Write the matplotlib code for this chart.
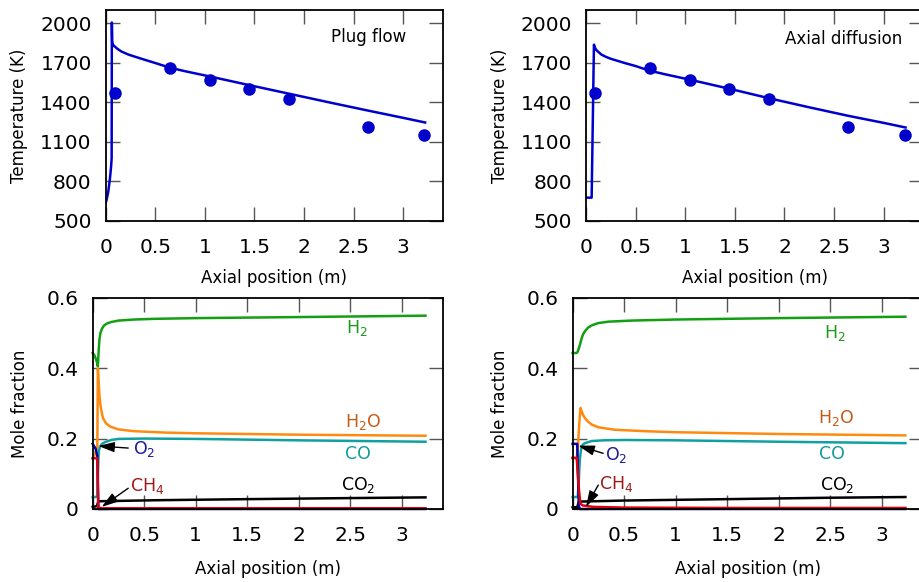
import matplotlib
matplotlib.use("Agg")
import matplotlib.pyplot as plt

plt.rcParams['font.family'] = ['DejaVu Sans']
plt.rcParams['mathtext.fontset'] = 'dejavusans'

# ---------------- data ----------------
x_ticks = [0, 0.5, 1, 1.5, 2, 2.5, 3]
x_ticklabels = ["0", "0.5", "1", "1.5", "2", "2.5", "3"]
T_ticks = [500, 800, 1100, 1400, 1700, 2000]
X_ticks = [0, 0.2, 0.4, 0.6]
X_ticklabels = ["0", "0.2", "0.4", "0.6"]

# experimental temperatures
x_exp = [0.095, 0.648, 1.05, 1.446, 1.848, 2.643, 3.213]
T_exp = [1474, 1660, 1571, 1500, 1424, 1212, 1153]

# plug flow temperature
x_T_pf = [0.0, 0.01, 0.027, 0.044, 0.055, 0.061, 0.063, 0.066, 0.07, 0.08,
          0.094, 0.12, 0.16, 0.23, 0.35, 0.5, 0.65, 0.8, 1.05, 1.45, 1.85,
          2.25, 2.64, 3.0, 3.22]
T_pf = [635, 660, 723, 824, 910, 976, 2005, 1865, 1845, 1831, 1822, 1805, 1785,
        1762, 1733, 1698, 1662, 1636, 1596, 1530, 1465, 1400, 1338, 1282, 1247]

# axial diffusion temperature
x_T_ad = [0.0, 0.057, 0.08, 0.09, 0.1, 0.12, 0.157, 0.2, 0.25, 0.39, 0.5, 0.64,
          0.8, 1.05, 1.45, 1.85, 2.25, 2.64, 3.0, 3.22]
T_ad = [677, 677, 1837, 1815, 1800, 1785, 1761, 1745, 1730, 1698, 1675, 1640,
        1612, 1571, 1502, 1430, 1362, 1298, 1244, 1209]

# plug flow species
x_pf_H2 = [0, 0.02, 0.04, 0.05, 0.058, 0.065, 0.075, 0.09, 0.11, 0.14, 0.18,
           0.25, 0.4, 0.6, 1.0, 2.0, 3.23]
H2_pf = [0.443, 0.435, 0.418, 0.405, 0.45, 0.48, 0.50, 0.512, 0.521, 0.527,
         0.531, 0.535, 0.538, 0.540, 0.542, 0.545, 0.549]
x_pf_H2O = [0, 0.02, 0.045, 0.05, 0.055, 0.06, 0.066, 0.075, 0.087, 0.10, 0.13,
            0.17, 0.25, 0.4, 0.7, 1.0, 2.0, 3.23]
H2O_pf = [0.144, 0.155, 0.177, 0.40, 0.38, 0.35, 0.32, 0.295, 0.275, 0.258,
          0.243, 0.234, 0.226, 0.221, 0.217, 0.215, 0.211, 0.208]
x_pf_CO = [0, 0.045, 0.05, 0.055, 0.06, 0.07, 0.09, 0.12, 0.18, 0.25, 0.5, 1.0,
           2.0, 3.23]
CO_pf = [0.033, 0.035, 0.08, 0.14, 0.165, 0.177, 0.185, 0.19, 0.196, 0.199,
         0.20, 0.199, 0.195, 0.191]
x_pf_CO2 = [0, 0.04, 0.055, 0.64, 1.5, 2.5, 3.23]
CO2_pf = [0.006, 0.008, 0.022, 0.025, 0.028, 0.031, 0.033]
x_pf_O2 = [0, 0.03, 0.045, 0.055, 0.06, 3.23]
O2_pf = [0.185, 0.17, 0.15, 0.0, 0.0, 0.0]
x_pf_CH4 = [0, 0.045, 0.054, 0.06, 0.1, 3.23]
CH4_pf = [0.144, 0.144, 0.005, 0.003, 0.002, 0.002]

# axial diffusion species
x_ad_H2 = [0, 0.04, 0.05, 0.06, 0.072, 0.085, 0.1, 0.12, 0.15, 0.19, 0.25,
           0.35, 0.57, 1.0, 2.0, 3.23]
H2_ad = [0.443, 0.443, 0.447, 0.456, 0.467, 0.482, 0.495, 0.505, 0.515, 0.522,
         0.528, 0.532, 0.535, 0.538, 0.542, 0.546]
x_ad_H2O = [0, 0.04, 0.05, 0.06, 0.07, 0.078, 0.085, 0.1, 0.12, 0.15, 0.185,
            0.25, 0.41, 0.7, 1.0, 2.0, 3.23]
H2O_ad = [0.145, 0.145, 0.17, 0.22, 0.265, 0.287, 0.28, 0.268, 0.258, 0.248,
          0.24, 0.232, 0.225, 0.221, 0.218, 0.213, 0.209]
x_ad_CO = [0, 0.05, 0.06, 0.07, 0.08, 0.088, 0.1, 0.12, 0.185, 0.3, 0.5, 1.0,
           2.0, 3.23]
CO_ad = [0.034, 0.034, 0.08, 0.14, 0.165, 0.177, 0.183, 0.187, 0.193, 0.195,
         0.196, 0.195, 0.191, 0.187]
x_ad_CO2 = [0, 0.045, 0.06, 0.5, 1.5, 2.5, 3.23]
CO2_ad = [0.005, 0.005, 0.021, 0.024, 0.028, 0.032, 0.034]
x_ad_O2 = [0, 0.045, 0.06, 0.07, 3.23]
O2_ad = [0.185, 0.185, 0.01, 0.0, 0.0]
x_ad_CH4 = [0, 0.04, 0.06, 0.075, 0.1, 0.2, 0.5, 1.5, 3.23]
CH4_ad = [0.145, 0.145, 0.06, 0.015, 0.01, 0.006, 0.004, 0.003, 0.003]

species = ["H2", "H2O", "CO", "CO2", "O2", "CH4"]
line_colors = {"H2": "#12a012", "H2O": "#ff8a10", "CO": "#10a0a0",
               "CO2": "#000000", "O2": "#0000aa", "CH4": "#dd0010"}
label_colors = {"H2": "#1a9a1a", "H2O": "#c85a14", "CO": "#109a9a",
                "CO2": "#000000", "O2": "#1a1a99", "CH4": "#a01818"}
label_text = {"H2": r"H$_2$", "H2O": r"H$_2$O", "CO": "CO", "CO2": r"CO$_2$"}
label_pos_pf = {"H2": (2.56, 0.513), "H2O": (2.62, 0.248), "CO": (2.57, 0.155),
                "CO2": (2.58, 0.068)}
label_pos_ad = {"H2": (2.55, 0.50), "H2O": (2.56, 0.258), "CO": (2.52, 0.155),
                "CO2": (2.57, 0.068)}

T_color = "#0000cc"
tick_color = "#555555"

W, H = 919, 582
fig = plt.figure(figsize=(W / 100, H / 100), dpi=100)


def px_axes(left, top, right, bottom):
    return fig.add_axes([left / W, 1 - bottom / H, (right - left) / W,
                         (bottom - top) / H])


ax_tl = px_axes(105.6, 10, 443, 221)
ax_tr = px_axes(586, 10, 923.4, 221)
ax_bl = px_axes(92.7, 297.7, 443, 509)
ax_br = px_axes(572.6, 297.7, 922.9, 509)


def style(ax, xlabelpad):
    ax.tick_params(direction='in', length=10, width=1, color=tick_color,
                   top=True, right=True, labelsize=14.5)
    ax.tick_params(axis='x', pad=12)
    ax.tick_params(axis='y', pad=10)
    for s in ax.spines.values():
        s.set_linewidth(1.3)
    ax.set_xlim(0, 3.4)
    ax.set_xticks(x_ticks)
    ax.set_xticklabels(x_ticklabels)
    ax.set_xlabel("Axial position (m)", fontsize=12, labelpad=xlabelpad)


for ax, xT, TT in [(ax_tl, x_T_pf, T_pf), (ax_tr, x_T_ad, T_ad)]:
    style(ax, 9)
    ax.plot(xT, TT, color=T_color, lw=1.8)
    ax.plot(x_exp, T_exp, 'o', color=T_color, ms=8, clip_on=False)
    ax.set_ylim(500, 2100)
    ax.set_yticks(T_ticks)
    ax.set_ylabel("Temperature (K)", fontsize=12, labelpad=8.5)

ax_tl.text(2.268, 1895, "Plug flow", fontsize=12, va='center', ha='left')
ax_tr.text(2.002, 1880, "Axial diffusion", fontsize=12, va='center', ha='left')

pf_data = {"H2": (x_pf_H2, H2_pf), "H2O": (x_pf_H2O, H2O_pf),
           "CO": (x_pf_CO, CO_pf), "CO2": (x_pf_CO2, CO2_pf),
           "O2": (x_pf_O2, O2_pf), "CH4": (x_pf_CH4, CH4_pf)}
ad_data = {"H2": (x_ad_H2, H2_ad), "H2O": (x_ad_H2O, H2O_ad),
           "CO": (x_ad_CO, CO_ad), "CO2": (x_ad_CO2, CO2_ad),
           "O2": (x_ad_O2, O2_ad), "CH4": (x_ad_CH4, CH4_ad)}

for ax, data, lpos in [(ax_bl, pf_data, label_pos_pf),
                       (ax_br, ad_data, label_pos_ad)]:
    style(ax, 11)
    for sp in species:
        xs, ys = data[sp]
        ax.plot(xs, ys, color=line_colors[sp], lw=1.8, clip_on=False)
    for sp, (lx, ly) in lpos.items():
        ax.text(lx, ly, label_text[sp], color=label_colors[sp], fontsize=12.5,
                ha='center', va='center')
    ax.set_ylim(0, 0.6)
    ax.set_yticks(X_ticks)
    ax.set_yticklabels(X_ticklabels)
    ax.set_ylabel("Mole fraction", fontsize=12, labelpad=13)

arrow = dict(arrowstyle='-|>,head_length=0.7,head_width=0.22', color='black',
             lw=1, mutation_scale=14, shrinkA=0, shrinkB=0)
# plug flow annotations
ax_bl.annotate('', xy=(0.054, 0.179), xytext=(0.345, 0.173), arrowprops=arrow)
ax_bl.text(0.39, 0.170, r"O$_2$", color=label_colors["O2"], fontsize=12.5,
           ha='left', va='center')
ax_bl.annotate('', xy=(0.087, 0.006), xytext=(0.345, 0.059), arrowprops=arrow)
ax_bl.text(0.361, 0.066, r"CH$_4$", color=label_colors["CH4"], fontsize=12.5,
           ha='left', va='center')
# axial diffusion annotations
ax_br.annotate('', xy=(0.055, 0.18), xytext=(0.297, 0.158), arrowprops=arrow)
ax_br.text(0.314, 0.152, r"O$_2$", color=label_colors["O2"], fontsize=12.5,
           ha='left', va='center')
ax_br.annotate('', xy=(0.13, 0.006), xytext=(0.249, 0.068), arrowprops=arrow)
ax_br.text(0.258, 0.071, r"CH$_4$", color=label_colors["CH4"], fontsize=12.5,
           ha='left', va='center')

fig.savefig("out.png", dpi=100)
